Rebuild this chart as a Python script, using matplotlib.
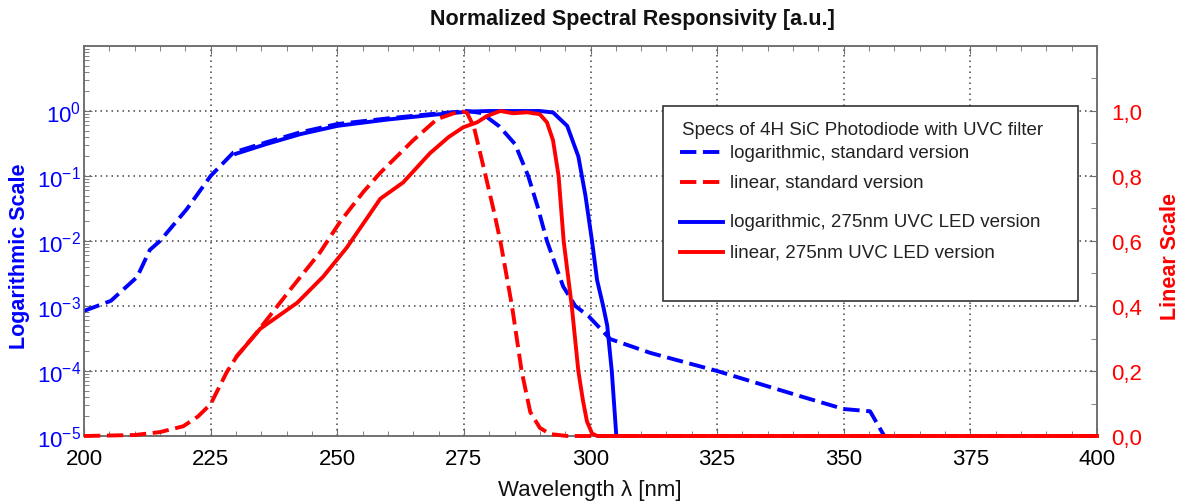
import matplotlib
matplotlib.use('Agg')
import matplotlib.pyplot as plt
from matplotlib.lines import Line2D
from matplotlib.patches import Rectangle
from matplotlib.ticker import (FixedLocator, MultipleLocator, LogLocator,
                               FuncFormatter, NullFormatter, LogFormatterSciNotation)

plt.rcParams['font.family'] = ['Liberation Sans', 'DejaVu Sans']

# ---------------- data ----------------
log_std_x = [200, 205.3, 210.5, 213, 215, 220.3, 225, 229.5, 236, 242.7, 250, 260, 270,
             275.6, 278.5, 282, 285.1, 287.7, 289.5, 291.4, 294.6, 297, 299.6, 303.9,
             311.8, 325, 341.4, 350, 355.2, 358]
log_std_y = [8.4e-4, 1.2e-3, 2.8e-3, 7.3e-3, 1e-2, 3.1e-2, 0.1, 0.23, 0.33, 0.47, 0.63, 0.77, 0.92,
             1.0, 0.93, 0.58, 0.31, 0.1, 0.035, 1e-2, 2e-3, 1e-3, 7e-4, 3.1e-4,
             1.9e-4, 1e-4, 4.1e-5, 2.6e-5, 2.4e-5, 1e-5]

log_led_x = [230, 236, 242.7, 250, 260, 270, 276, 280, 290, 292.6, 295.4, 297.6, 298.3, 299,
             300.3, 301.3, 302.5, 303.3, 304.2, 305.1]
log_led_y = [0.22, 0.31, 0.44, 0.59, 0.74, 0.89, 0.98, 1.0, 1.0, 0.95, 0.59, 0.2, 0.1, 0.05,
             1e-2, 2.5e-3, 1e-3, 5e-4, 1e-4, 1e-5]

lin_std_x = [200, 210, 215, 219.6, 222.5, 225, 228.2, 230.2, 234.2, 240.7, 246.6, 250.6, 255.1,
             258.5, 265, 269.7, 274.3, 275.6, 277, 279.3, 280.8, 282.2, 284.5, 286.4, 288.1,
             290, 292, 295.4, 400]
lin_std_y = [0.0, 0.003, 0.012, 0.03, 0.06, 0.098, 0.197, 0.246, 0.32, 0.45, 0.565, 0.66, 0.75,
             0.81, 0.91, 0.975, 1.0, 0.995, 0.95, 0.8, 0.7, 0.6, 0.4, 0.2, 0.074,
             0.025, 0.006, 0.0, 0.0]

lin_led_x = [230.2, 234.8, 242.1, 247.2, 251.9, 258.5, 263, 268.3, 272, 274.9, 277.6, 279.6,
             282.2, 284.7, 287.5, 290, 291.4, 292.6, 293.7, 294.7, 296.3, 297.6, 298.5, 299.3,
             300.3, 301.3, 400]
lin_led_y = [0.246, 0.33, 0.41, 0.49, 0.58, 0.73, 0.78, 0.87, 0.92, 0.95, 0.965, 0.985,
             1.0, 0.993, 0.996, 0.99, 0.965, 0.91, 0.8, 0.6, 0.4, 0.2, 0.11, 0.045,
             0.008, 0.0, 0.0]

log_ticks = [1e-5, 1e-4, 1e-3, 1e-2, 1e-1, 1e0]
lin_ticks = [0.0, 0.2, 0.4, 0.6, 0.8, 1.0]
x_ticks = [200, 225, 250, 275, 300, 325, 350, 375, 400]

legend_title = 'Specs of 4H SiC Photodiode with UVC filter'
legend_labels = ['logarithmic, standard version', 'linear, standard version',
                 'logarithmic, 275nm UVC LED version', 'linear, 275nm UVC LED version']

BLUE = '#0000ff'
RED = '#ff0000'
SPINE = '#6e6e6e'
GRID = '#444444'
LW = 2.8
DASH = (0, (4.2, 1.7))

# ---------------- figure ----------------
fig = plt.figure(figsize=(11.86, 5.02), dpi=100)
ax = fig.add_axes([84/1186, 1-437/502, 1013/1186, 390/502])
ax.set_yscale('log')
ax.set_xlim(200, 400)
ax.set_ylim(1e-5, 1e1)

ax2 = ax.twinx()
ax2.set_ylim(0, 1.2)

# grid
ax.set_xticks(x_ticks)
ax.xaxis.set_minor_locator(MultipleLocator(5))
ax.yaxis.set_major_locator(FixedLocator(log_ticks))
ax.yaxis.set_major_formatter(LogFormatterSciNotation())
ax.yaxis.set_minor_locator(LogLocator(base=10, subs=range(2, 10), numticks=20))
ax.yaxis.set_minor_formatter(NullFormatter())
ax.grid(True, which='major', linestyle=(0, (1, 2.6)), color=GRID, linewidth=1.1)
ax.set_axisbelow(True)

ax2.yaxis.set_major_locator(FixedLocator(lin_ticks))
ax2.yaxis.set_minor_locator(MultipleLocator(0.1))
ax2.yaxis.set_major_formatter(FuncFormatter(lambda v, p: f'{v:.1f}'.replace('.', ',')))

# ticks styling
ax.tick_params(axis='x', which='both', direction='in', top=True, bottom=True,
               color=SPINE, labelsize=16, pad=9)
ax.tick_params(axis='x', which='major', length=6)
ax.tick_params(axis='x', which='minor', length=3.5)
ax.tick_params(axis='y', which='both', direction='in', left=True, right=False,
               color=SPINE, labelcolor=BLUE, labelsize=16, pad=2)
ax.tick_params(axis='y', which='major', length=6)
ax.tick_params(axis='y', which='minor', length=3.5)
ax2.tick_params(axis='y', which='both', direction='in', right=True, left=False,
                color=SPINE, labelcolor=RED, labelsize=16, pad=10)
ax2.tick_params(axis='y', which='major', length=6)
ax2.tick_params(axis='y', which='minor', length=4)

for a in (ax, ax2):
    for s in a.spines.values():
        s.set_color(SPINE)
        s.set_linewidth(1.1)

# ---------------- curves ----------------
ax.plot(log_led_x, log_led_y, color=BLUE, lw=LW, solid_joinstyle='round', clip_on=False, zorder=3)
ax.plot(log_std_x, log_std_y, color=BLUE, lw=LW, linestyle=DASH, clip_on=False, zorder=4)
ax2.plot(lin_led_x, lin_led_y, color=RED, lw=LW, solid_joinstyle='round', clip_on=False, zorder=3)
ax2.plot(lin_std_x, lin_std_y, color=RED, lw=LW, linestyle=DASH, clip_on=False, zorder=4)

# ---------------- legend (manual box) ----------------
T = ax2.transAxes
ax2.add_patch(Rectangle((0.5716, 0.346), 0.4094, 0.500, transform=T, facecolor='white',
                        edgecolor='#333333', linewidth=1.2, zorder=10))
ax2.text(0.590, 0.787, legend_title, transform=T, fontsize=13.5, color='#222222',
         ha='left', va='center', zorder=11)
entry_y = [0.728, 0.652, 0.549, 0.472]
styles = [(BLUE, DASH), (RED, DASH), (BLUE, '-'), (RED, '-')]
for yy, lab, (c, ls) in zip(entry_y, legend_labels, styles):
    ax2.add_line(Line2D([0.588, 0.631], [yy, yy], transform=T, color=c, lw=LW,
                        linestyle=ls, zorder=11))
    ax2.text(0.638, yy, lab, transform=T, fontsize=13.5, color='#222222',
             ha='left', va='center', zorder=11)

# ---------------- texts ----------------
fig.text(632/1186, 1-20/502, 'Normalized Spectral Responsivity [a.u.]', ha='center', va='center',
         fontsize=15.5, fontweight='bold', color='#111111')
fig.text(590/1186, 1-491/502, 'Wavelength λ [nm]', ha='center', va='center', fontsize=16,
         color='#111111')
fig.text(20/1186, 1-256/502, 'Logarithmic Scale', ha='center', va='center', rotation=90,
         fontsize=15.5, fontweight='bold', color=BLUE)
fig.text(1170/1186, 1-256/502, 'Linear Scale', ha='center', va='center', rotation=90,
         fontsize=15.5, fontweight='bold', color=RED)

fig.savefig('out.png', dpi=100)
